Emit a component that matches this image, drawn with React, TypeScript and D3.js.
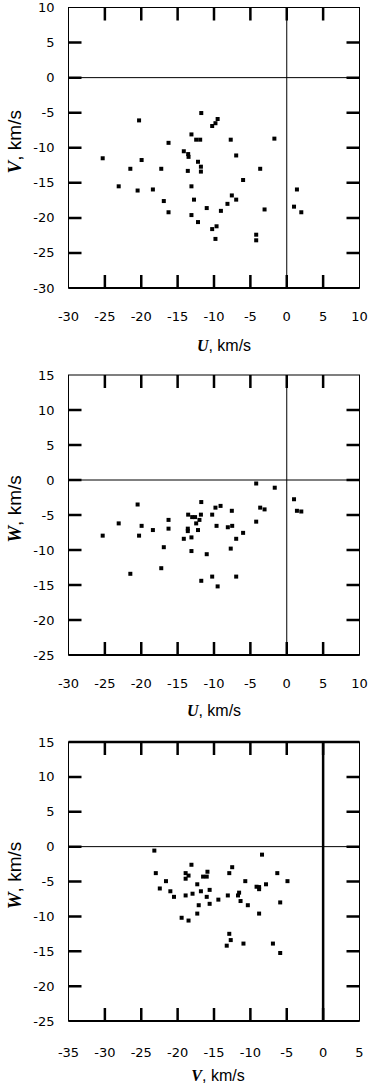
import React from 'react';
import * as d3 from 'd3';

// U, V (km/s)
const uvPoints = [
  [-11.75, -5.05], [-20.3, -6.1], [-9.5, -5.9], [-9.8, -6.5], [-10.25, -6.9], [-13.1, -8.1],
  [-16.25, -9.3], [-12.45, -8.85], [-11.9, -8.85], [-7.7, -8.85], [-1.7, -8.7], [-14.15, -10.5],
  [-13.55, -10.9], [-13.5, -11.3], [-25.3, -11.5], [-19.95, -11.75], [-6.95, -11.1], [-12.2, -12.0],
  [-21.5, -13.0], [-17.25, -13.0], [-13.6, -13.3], [-11.8, -12.7], [-11.8, -13.4], [-3.65, -13.0],
  [-6.0, -14.6], [-23.1, -15.5], [-20.5, -16.1], [-18.4, -15.95], [-13.1, -15.5], [-16.9, -17.6],
  [-12.75, -17.4], [-7.55, -16.8], [-6.95, -17.4], [-8.15, -18.0], [-11.0, -18.6], [-9.05, -19.0],
  [-3.05, -18.8], [-16.25, -19.2], [-13.1, -19.6], [-12.2, -20.6], [-9.65, -21.2], [-10.25, -21.6],
  [-9.8, -23.0], [-4.2, -22.4], [-4.2, -23.2], [1.4, -15.95], [1.0, -18.4], [2.0, -19.2],
];

// U, W (km/s)
const uwPoints = [
  [-4.2, -0.5], [-1.65, -1.1], [-20.5, -3.5], [-11.75, -3.15], [-9.8, -3.95], [-9.1, -3.7],
  [-7.55, -4.4], [-3.65, -3.95], [-3.05, -4.2], [-13.55, -4.95], [-13.0, -5.3], [-12.6, -5.3],
  [-11.8, -4.95], [-10.25, -4.95], [-12.0, -5.7], [-12.45, -6.2], [-16.25, -5.7], [-4.2, -5.95],
  [-23.1, -6.2], [-19.95, -6.55], [-9.65, -6.55], [-8.1, -6.75], [-7.5, -6.55], [-18.4, -7.15],
  [-16.25, -6.95], [-13.6, -6.95], [-13.6, -7.3], [-12.2, -7.15], [-25.3, -7.95], [-20.3, -7.95],
  [-14.15, -8.4], [-13.1, -8.2], [-6.0, -7.55], [-6.95, -8.4], [-16.9, -9.6], [-13.1, -10.15],
  [-11.0, -10.6], [-7.7, -9.8], [-17.25, -12.6], [-21.5, -13.4], [-10.25, -13.8], [-6.95, -13.8],
  [-11.75, -14.4], [-9.5, -15.2], [1.0, -2.75], [1.4, -4.4], [2.0, -4.5],
];

// V, W (km/s)
const vwPoints = [
  [-23.2, -0.57], [-8.4, -1.15], [-18.1, -2.6], [-12.5, -2.95], [-23.0, -3.8], [-18.9, -3.8],
  [-18.5, -4.15], [-18.9, -4.6], [-16.5, -4.3], [-16.0, -4.3], [-15.9, -3.6], [-12.9, -3.8],
  [-6.3, -3.8], [-21.6, -4.95], [-10.7, -4.95], [-4.9, -4.95], [-17.3, -5.4], [-7.85, -5.4],
  [-9.15, -5.75], [-8.8, -6.1], [-8.8, -5.8], [-22.45, -6.0], [-21.0, -6.4], [-15.6, -6.2],
  [-16.8, -6.4], [-17.95, -6.75], [-18.9, -7.0], [-20.5, -7.2], [-16.0, -7.2], [-13.1, -7.0],
  [-11.55, -6.6], [-11.7, -7.0], [-14.4, -7.6], [-11.35, -7.8], [-15.6, -8.2], [-10.35, -8.4],
  [-5.9, -8.0], [-17.1, -8.4], [-17.3, -9.6], [-8.8, -9.6], [-19.45, -10.2], [-18.5, -10.6],
  [-12.9, -12.5], [-12.7, -13.4], [-13.25, -14.2], [-10.95, -13.9], [-6.9, -13.9], [-5.9, -15.25],
];

const uTicks = [-30, -25, -20, -15, -10, -5, 0, 5, 10];
const vTicks = [-35, -30, -25, -20, -15, -10, -5, 0, 5];
const vTicksY = [-30, -25, -20, -15, -10, -5, 0, 5, 10];
const wTicks = [-25, -20, -15, -10, -5, 0, 5, 10, 15];

const panels = [
  { points: uvPoints, xTicks: uTicks, yTicks: vTicksY, xName: 'U', yName: 'V', top: 7.5, bottom: 288, labelPad: 28, titleY: 351, titleX: 224, bold: false },
  { points: uwPoints, xTicks: uTicks, yTicks: wTicks, xName: 'U', yName: 'W', top: 375, bottom: 655, labelPad: 28, titleY: 716, titleX: 214, bold: false },
  { points: vwPoints, xTicks: vTicks, yTicks: wTicks, xName: 'V', yName: 'W', top: 742, bottom: 1021, labelPad: 31, titleY: 1081, titleX: 218, bold: true },
];

const LEFT = 68.5;
const RIGHT = 359.5;
const TICK = 13;
const TW = 2.5;
const numFont = '"DejaVu Sans", sans-serif';
const textFont = '"Liberation Sans", sans-serif';

function Panel({ p }) {
  const x = d3.scaleLinear().domain(d3.extent(p.xTicks)).range([LEFT, RIGHT]);
  const y = d3.scaleLinear().domain(d3.extent(p.yTicks)).range([p.bottom, p.top]);
  const innerX = p.xTicks.slice(1, -1);
  const innerY = p.yTicks.slice(1, -1);
  const cy = (p.top + p.bottom) / 2 - 6;

  // all inward ticks of the panel as one path
  const ticks = d3.path();
  innerX.forEach((v) => {
    ticks.moveTo(x(v), p.bottom);
    ticks.lineTo(x(v), p.bottom - TICK);
    ticks.moveTo(x(v), p.top);
    ticks.lineTo(x(v), p.top + TICK);
  });
  innerY.forEach((v) => {
    ticks.moveTo(LEFT, y(v));
    ticks.lineTo(LEFT + TICK, y(v));
    ticks.moveTo(RIGHT, y(v));
    ticks.lineTo(RIGHT - TICK, y(v));
  });

  return (
    <g>
      {/* frame */}
      <rect x={LEFT} y={p.top} width={RIGHT - LEFT} height={p.bottom - p.top} fill="none" stroke="#000" strokeWidth={1} />
      <line x1={LEFT} x2={RIGHT} y1={p.bottom} y2={p.bottom} stroke="#000" strokeWidth={1.8} />
      {p.bold && <line x1={LEFT} x2={RIGHT} y1={p.top} y2={p.top} stroke="#000" strokeWidth={2.5} />}

      {/* zero lines */}
      <line x1={LEFT} x2={RIGHT} y1={y(0)} y2={y(0)} stroke="#000" strokeWidth={1} />
      <line x1={x(0)} x2={x(0)} y1={p.top} y2={p.bottom} stroke="#000" strokeWidth={p.bold ? 2.5 : 1} />

      {/* ticks */}
      <path d={ticks.toString()} stroke="#000" strokeWidth={TW} fill="none" />

      {/* tick labels */}
      <g fontFamily={numFont} fontSize={13} fill="#000">
        {p.xTicks.map((v) => (
          <text key={'lx' + v} x={x(v)} y={p.bottom + p.labelPad} textAnchor="middle" dominantBaseline="central">
            {String(v)}
          </text>
        ))}
        {p.yTicks.map((v) => (
          <text key={'ly' + v} x={LEFT - 14} y={y(v)} textAnchor="end" dominantBaseline="central">
            {String(v)}
          </text>
        ))}
      </g>

      {/* points */}
      {p.points.map((d, i) => (
        <rect key={i} x={x(d[0]) - 2} y={y(d[1]) - 2} width={4} height={4} fill="#000" />
      ))}

      {/* titles */}
      <text x={p.titleX} y={p.titleY} textAnchor="middle" fontFamily={textFont} fontSize={16}>
        <tspan fontFamily='"Liberation Serif", serif' fontWeight="bold" fontStyle="italic">{p.xName}</tspan>
        <tspan>, km/s</tspan>
      </text>
      <text transform={`translate(21,${cy}) rotate(-90)`} textAnchor="middle" fontFamily={textFont} fontSize={19}>
        <tspan fontFamily='"Liberation Serif", serif' fontWeight="bold" fontStyle="italic">{p.yName}</tspan>
        <tspan>, km/s</tspan>
      </text>
    </g>
  );
}

export default function App() {
  return (
    <svg width={382} height={1089} style={{ position: 'absolute', left: 0, top: 0, background: '#fff' }}>
      {panels.map((p, i) => (
        <Panel key={i} p={p} />
      ))}
    </svg>
  );
}
